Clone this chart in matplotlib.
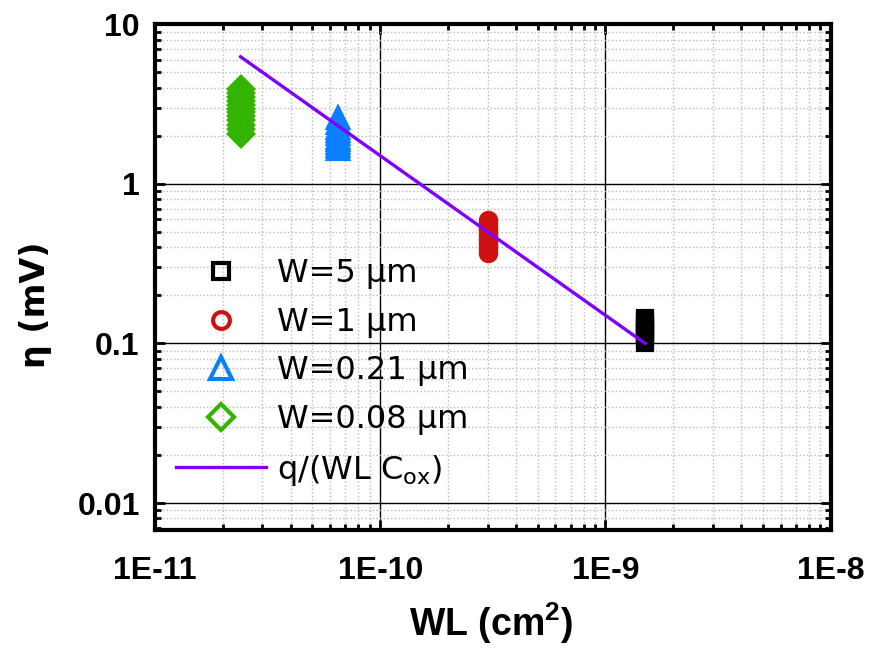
import numpy as np
import matplotlib.pyplot as plt
from matplotlib.ticker import LogLocator, FixedLocator, FixedFormatter, NullFormatter

plt.rcParams['font.family'] = ['Liberation Sans', 'DejaVu Sans']

# W = 5 um
wl_5 = 1.5e-9
eta_5 = [0.10, 0.105, 0.11, 0.115, 0.12, 0.125, 0.13, 0.135, 0.14, 0.145]
# W = 1 um
wl_1 = 3.0e-10
eta_1 = [0.37, 0.39, 0.41, 0.43, 0.45, 0.47, 0.49, 0.51, 0.53, 0.56, 0.59]
# W = 0.21 um
wl_021 = 6.5e-11
eta_021 = [1.65, 1.72, 1.8, 1.88, 1.95, 2.05, 2.15, 2.25, 2.4, 2.6]
# W = 0.08 um
wl_008 = 2.4e-11
eta_008 = [2.05, 2.2, 2.35, 2.5, 2.65, 2.8, 2.95, 3.1, 3.3, 3.5, 3.7, 3.95]
# q/(WL Cox)
wl_fit = [2.4e-11, 1.5e-9]
eta_fit = [6.25, 0.1]

fig = plt.figure(figsize=(8.73, 6.54), dpi=100)
ax = fig.add_axes([0.1775, 0.19, 0.774, 0.773])

ax.plot([wl_5] * len(eta_5), eta_5, ls='none', marker='s', ms=10, mfc='none',
        mec='black', mew=3, label='W=5 µm')
ax.plot([wl_1] * len(eta_1), eta_1, ls='none', marker='o', ms=11, mfc='none',
        mec='#d01010', mew=3, label='W=1 µm')
ax.plot([wl_021] * len(eta_021), eta_021, ls='none', marker='^', ms=14, mfc='none',
        mec='#0a80ff', mew=3, label='W=0.21 µm')
ax.plot([wl_008] * len(eta_008), eta_008, ls='none', marker='D', ms=12, mfc='none',
        mec='#33b400', mew=3, label='W=0.08 µm')
ax.plot(wl_fit, eta_fit, color='#7f00ff', lw=2.4, label='q/(WL C$_{\\mathregular{ox}}$)')

ax.set_xscale('log')
ax.set_yscale('log')
ax.set_xlim(1e-11, 1e-8)
ax.set_ylim(0.0068, 10)

ax.xaxis.set_major_locator(FixedLocator([1e-11, 1e-10, 1e-9, 1e-8]))
ax.xaxis.set_major_formatter(FixedFormatter(['1E-11', '1E-10', '1E-9', '1E-8']))
ax.yaxis.set_major_locator(FixedLocator([0.01, 0.1, 1, 10]))
ax.yaxis.set_major_formatter(FixedFormatter(['0.01', '0.1', '1', '10']))
ax.xaxis.set_minor_locator(LogLocator(base=10, subs=np.arange(2, 10)))
ax.yaxis.set_minor_locator(LogLocator(base=10, subs=np.arange(2, 10)))
ax.xaxis.set_minor_formatter(NullFormatter())
ax.yaxis.set_minor_formatter(NullFormatter())

ax.grid(which='major', color='black', lw=1, ls='-')
ax.grid(which='minor', color='#bbbbbb', lw=1, ls=':')
ax.set_axisbelow(True)

ax.tick_params(which='both', direction='in', top=True, right=True, width=2)
ax.tick_params(which='major', length=7, labelsize=23)
ax.tick_params(axis='x', which='major', pad=19)
ax.tick_params(axis='y', which='major', pad=11)
ax.tick_params(which='minor', length=4)
for lab in ax.get_xticklabels() + ax.get_yticklabels():
    lab.set_fontweight('bold')
for sp in ax.spines.values():
    sp.set_linewidth(3)

ax.set_xlabel('WL (cm$^{\\mathregular{2}}$)', fontsize=27, fontweight='bold')
ax.xaxis.set_label_coords(0.497, -0.14)
ax.set_ylabel('η (mV)', fontsize=24, fontweight='bold', family=['DejaVu Sans'])
ax.yaxis.set_label_coords(-0.152, 0.445)

ax.legend(loc='upper left', bbox_to_anchor=(0.202, 0.605), bbox_transform=fig.transFigure,
          frameon=False, prop={'family': ['DejaVu Sans'], 'size': 23},
          borderpad=0, borderaxespad=0, handlelength=2.8, handletextpad=0.35,
          labelspacing=0.55, markerscale=1.1)

fig.savefig('out.png', dpi=100)
